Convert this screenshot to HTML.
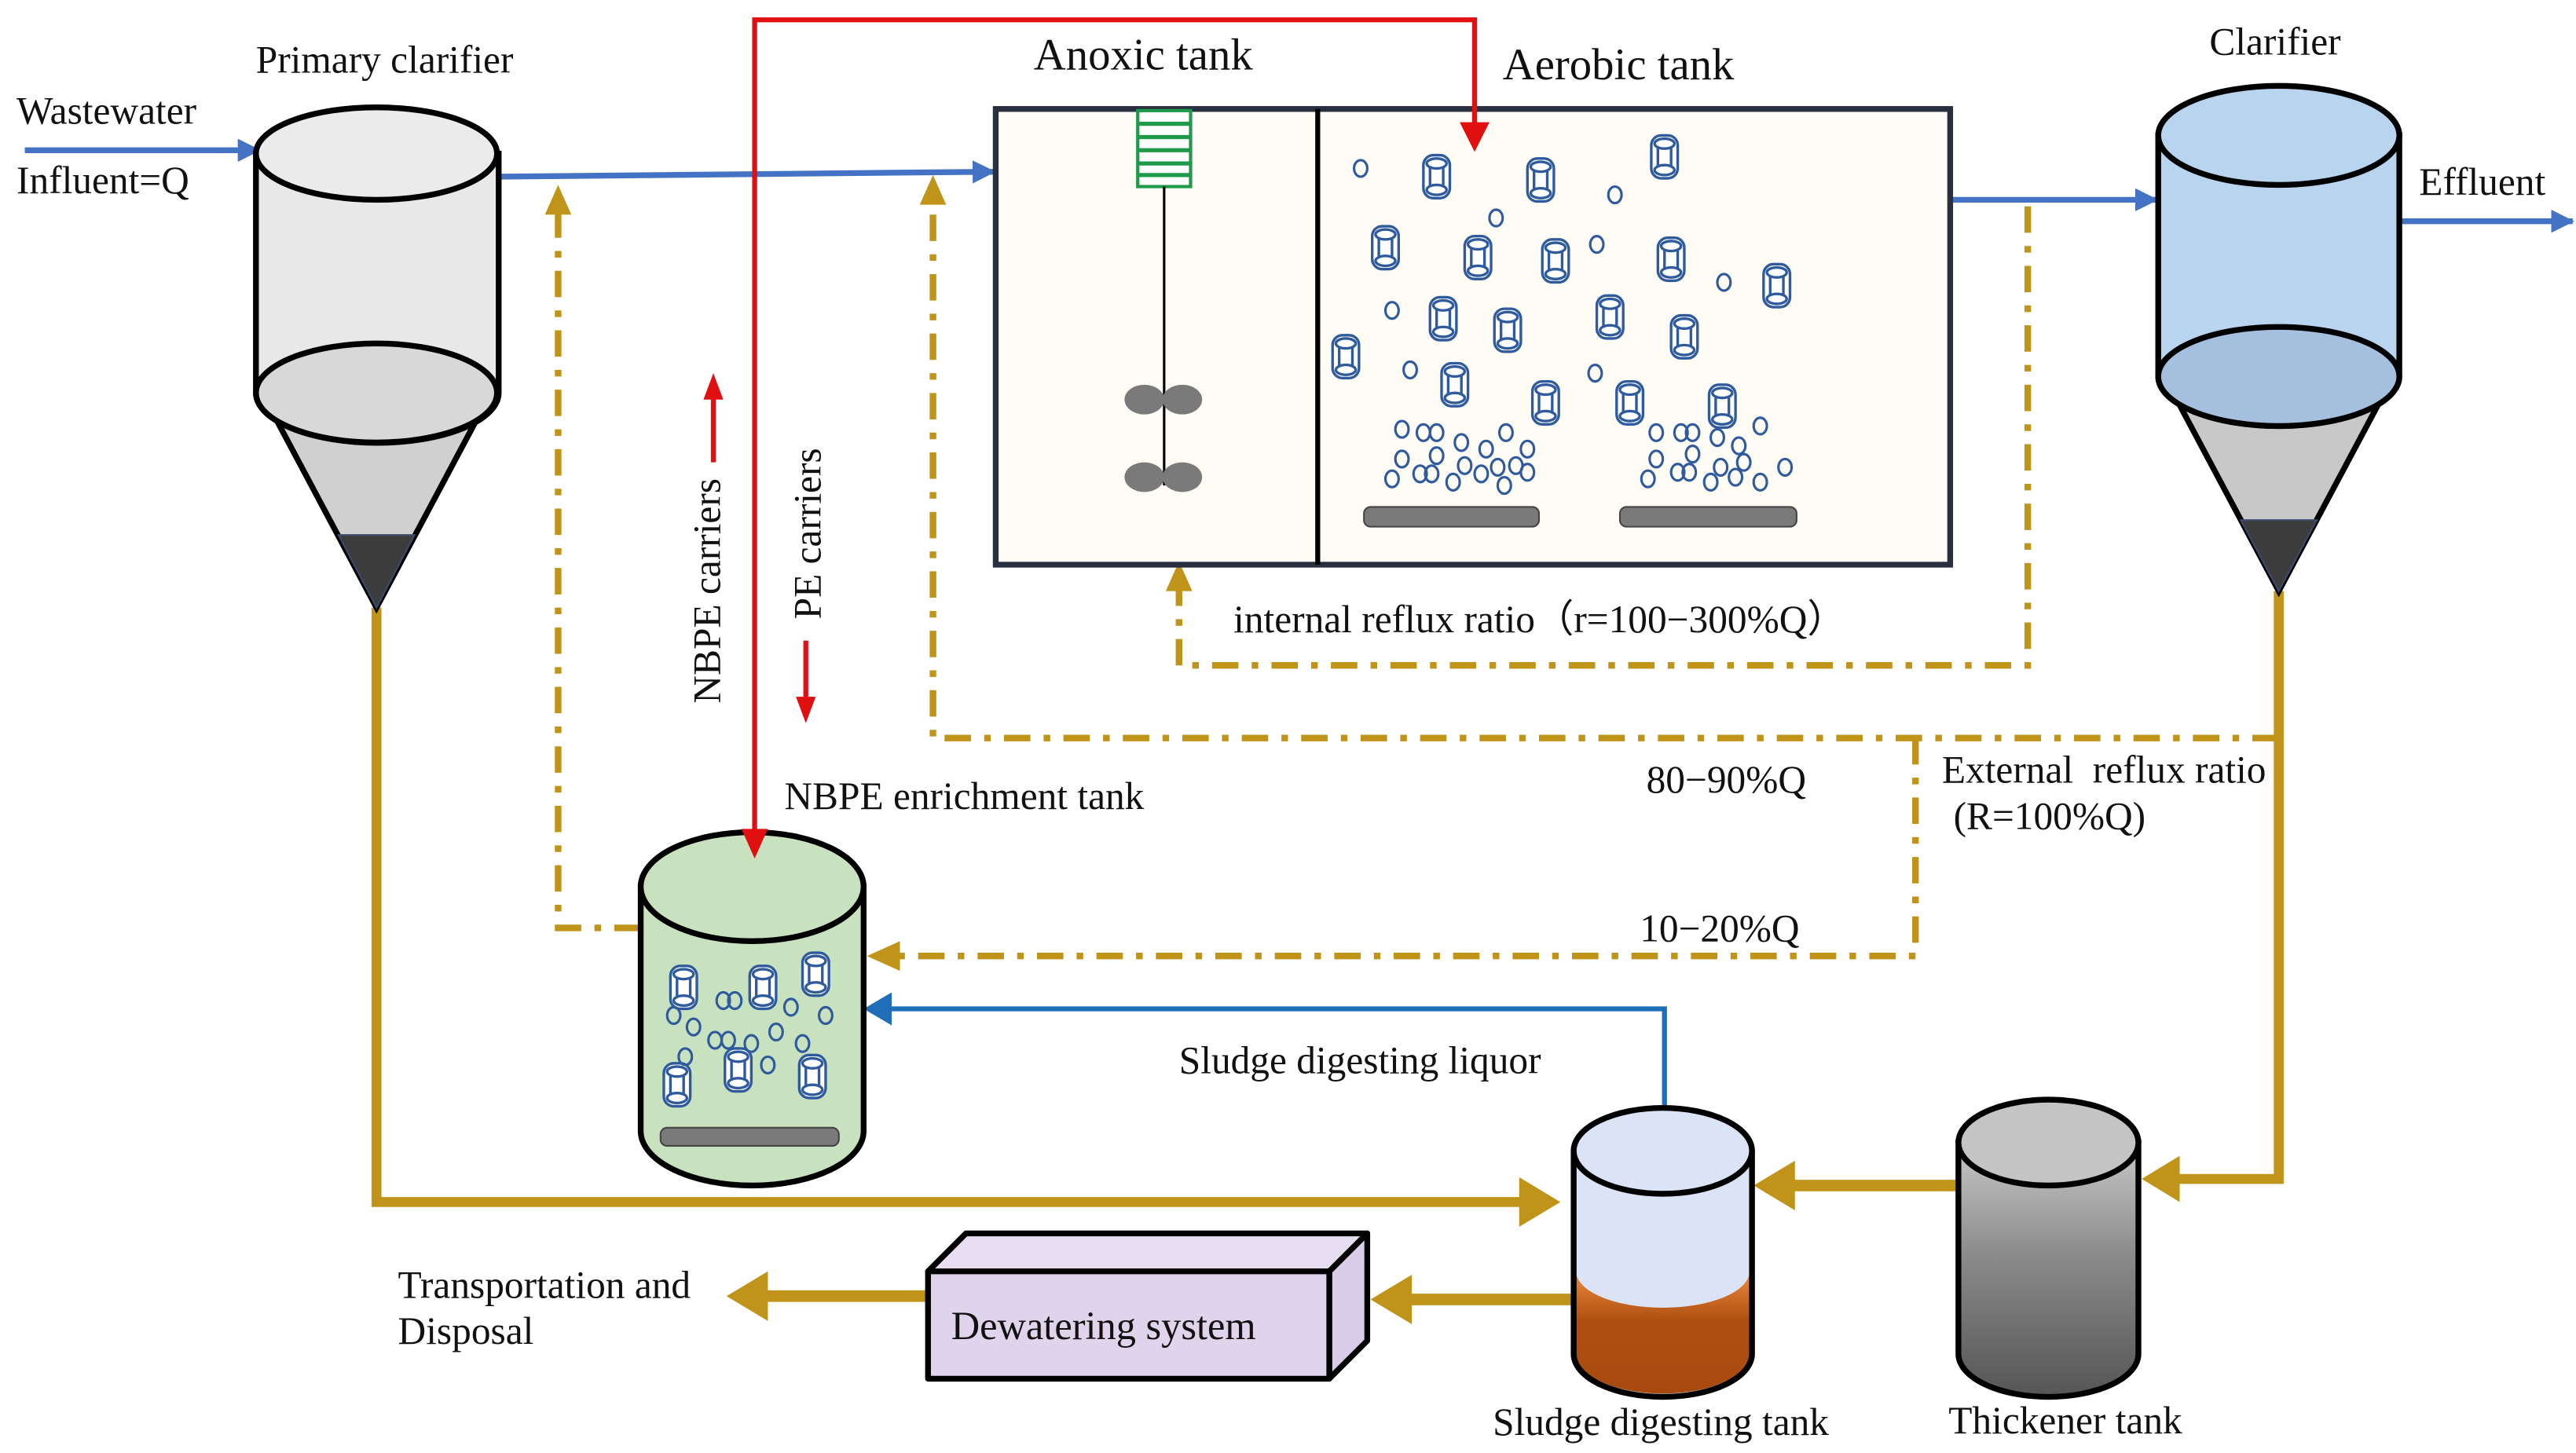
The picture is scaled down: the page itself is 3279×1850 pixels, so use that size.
<!DOCTYPE html>
<html><head><meta charset="utf-8"><style>
html,body{margin:0;padding:0;background:#fff;}
svg{display:block;}
text{font-family:"Liberation Serif",serif;fill:#111;}
</style></head><body>
<svg width="3279" height="1850" viewBox="0 0 1560 880" preserveAspectRatio="none" xmlns="http://www.w3.org/2000/svg">
<defs>
<g id="car" fill="none" stroke="#2f5b9e" stroke-width="1.6">
<rect x="-8" y="-13" width="16" height="26" rx="6" fill="#fff"/>
<ellipse cx="0" cy="-8" rx="6" ry="3"/>
<ellipse cx="0" cy="8" rx="6" ry="3"/>
<line x1="-4" y1="-6" x2="-4" y2="6"/><line x1="4" y1="-6" x2="4" y2="6"/>
</g>
<marker id="ab" markerWidth="14" markerHeight="14" refX="13" refY="7" orient="auto" markerUnits="userSpaceOnUse"><path d="M0,0 L14,7 L0,14z" fill="#4472c4"/></marker>
<linearGradient id="thk" x1="0" y1="0" x2="0" y2="1"><stop offset="0" stop-color="#c8c8c8"/><stop offset="0.45" stop-color="#8a8a8a"/><stop offset="1" stop-color="#555"/></linearGradient>
<linearGradient id="dig" x1="0" y1="0" x2="0" y2="1"><stop offset="0" stop-color="#ee8a40"/><stop offset="0.4" stop-color="#b05010"/><stop offset="1" stop-color="#a84a10"/></linearGradient>
</defs>

<!-- texts -->
<g font-size="23.5">
<text x="10" y="75">Wastewater</text>
<text x="10" y="117">Influent=Q</text>
<text x="155" y="44">Primary clarifier</text>
<text x="1338" y="33">Clarifier</text>
<text x="1465" y="118">Effluent</text>
<text x="1025" y="108">PE carriers</text>
<text x="747" y="383">internal reflux ratio（r=100−300%Q）</text>
<text x="997" y="480">80−90%Q</text>
<text x="1176" y="474" xml:space="preserve">External  reflux ratio</text>
<text x="1183" y="502">(R=100%Q)</text>
<text x="993" y="570">10−20%Q</text>
<text x="475" y="490">NBPE enrichment tank</text>
<text x="714" y="650">Sludge digesting liquor</text>
<text x="241" y="786">Transportation and</text>
<text x="241" y="814">Disposal</text>
<text x="904" y="869">Sludge digesting tank</text>
<text x="1180" y="868">Thickener tank</text>
<text transform="translate(436,426) rotate(-90)">NBPE carriers</text>
<text transform="translate(497,375) rotate(-90)">PE carriers</text>
</g>
<text x="626" y="42" font-size="27">Anoxic tank</text>
<text x="910" y="48" font-size="27">Aerobic tank</text>

<!-- blue lines -->
<g stroke="#4472c4" stroke-width="3.5" fill="none">
<line x1="15" y1="91" x2="157" y2="91" marker-end="url(#ab)"/>
<line x1="302" y1="107" x2="602" y2="104" marker-end="url(#ab)"/>
<line x1="1181" y1="121" x2="1306" y2="121" marker-end="url(#ab)"/>
<line x1="1447" y1="134" x2="1558" y2="134" marker-end="url(#ab)"/>
</g>
<polyline points="1008,670 1008,611 535,611" fill="none" stroke="#1f6fb8" stroke-width="3"/>
<path d="M523,611 L540,601 L540,621z" fill="#1f6fb8"/>

<!-- gold dash-dot -->
<g stroke="#c09418" stroke-width="4" fill="none" stroke-dasharray="16,8,4,8">
<polyline points="1228,125 1228,403 714,403 714,355"/>
<polyline points="1380,447 565,447 565,120"/>
<polyline points="1160,447 1160,579 540,579"/>
<polyline points="388,562 338,562 338,125"/>
</g>
<g fill="#c09418">
<path d="M714,340 L706,358 L722,358z"/>
<path d="M565,106 L557,124 L573,124z"/>
<path d="M338,112 L330,130 L346,130z"/>
<path d="M525,579 L545,570 L545,588z"/>
</g>
<!-- gold solid -->
<g stroke="#bf9418" fill="none">
<polyline points="1380,358 1380,714 1310,714" stroke-width="6"/>
<polyline points="228,368 228,728 925,728" stroke-width="6"/>
<line x1="1186" y1="718" x2="1080" y2="718" stroke-width="7"/>
<line x1="953" y1="787" x2="850" y2="787" stroke-width="7"/>
<line x1="562" y1="785" x2="460" y2="785" stroke-width="7"/>
</g>
<g fill="#bf9418">
<path d="M1297,714 L1320,700 L1320,728z"/>
<path d="M945,728 L920,713 L920,743z"/>
<path d="M1062,718 L1087,703 L1087,733z"/>
<path d="M830,787 L855,772 L855,802z"/>
<path d="M440,785 L465,770 L465,800z"/>
</g>

<!-- primary clarifier -->
<g stroke="#000" stroke-width="3.5">
<path d="M163,246 L293,246 L228,368z" fill="#d0d0d0"/>
<path d="M205,324 L251,324 L228,368z" fill="#3c3c3c" stroke="#3c4a70" stroke-width="1"/>
<path d="M155,93 L155,238 A73,30 0 0 0 302,238 L302,93z" fill="#e8e8e8"/>
<ellipse cx="228" cy="238" rx="73" ry="30" fill="#d8d8d8"/>
<ellipse cx="228" cy="93" rx="73" ry="28" fill="#ebebeb"/>
</g>

<!-- clarifier -->
<g stroke="#000" stroke-width="3.5">
<path d="M1315,236 L1445,236 L1380,358z" fill="#c8c8c8"/>
<path d="M1357,315 L1403,315 L1380,358z" fill="#3c3c3c" stroke="#3c4a70" stroke-width="1"/>
<path d="M1307,82 L1307,228 A73,30 0 0 0 1453,228 L1453,82z" fill="#b8d4ee"/>
<ellipse cx="1380" cy="228" rx="73" ry="30" fill="#a4c0de"/>
<ellipse cx="1380" cy="82" rx="73" ry="30" fill="#b8d4ee"/>
</g>

<!-- main tank -->
<rect x="603" y="66" width="578" height="276" fill="#fefcf4" stroke="#283040" stroke-width="3.5"/>
<line x1="798" y1="66" x2="798" y2="342" stroke="#000" stroke-width="3"/>
<rect x="689" y="67" width="32" height="46" fill="#fff" stroke="#1f9a4a" stroke-width="2"/>
<g stroke="#1f9a4a" stroke-width="2.5"><line x1="689" y1="75" x2="721" y2="75"/><line x1="689" y1="83" x2="721" y2="83"/><line x1="689" y1="91" x2="721" y2="91"/><line x1="689" y1="99" x2="721" y2="99"/><line x1="689" y1="106" x2="721" y2="106"/></g>
<line x1="705" y1="113" x2="705" y2="294" stroke="#000" stroke-width="1.5"/>
<g fill="#7a7a7a"><ellipse cx="693" cy="242" rx="12" ry="9"/><ellipse cx="716" cy="242" rx="12" ry="9"/><ellipse cx="693" cy="289" rx="12" ry="9"/><ellipse cx="716" cy="289" rx="12" ry="9"/></g>
<g fill="#7a7a7a" stroke="#444" stroke-width="1"><rect x="826" y="307" width="106" height="12" rx="4"/><rect x="981" y="307" width="107" height="12" rx="4"/></g>

<g>
<use href="#car" x="870" y="107"/><use href="#car" x="933" y="109"/><use href="#car" x="1008" y="95"/>
<use href="#car" x="839" y="150"/><use href="#car" x="895" y="156"/><use href="#car" x="942" y="158"/><use href="#car" x="1012" y="157"/><use href="#car" x="1076" y="173"/>
<use href="#car" x="874" y="193"/><use href="#car" x="913" y="200"/><use href="#car" x="975" y="192"/><use href="#car" x="1020" y="204"/>
<use href="#car" x="815" y="216"/><use href="#car" x="881" y="233"/><use href="#car" x="936" y="244"/><use href="#car" x="987" y="244"/><use href="#car" x="1043" y="246"/>
</g>
<g fill="none" stroke="#2f5b9e" stroke-width="1.5">
<ellipse cx="824" cy="102" rx="4" ry="5"/><ellipse cx="906" cy="132" rx="4" ry="5"/><ellipse cx="978" cy="118" rx="4" ry="5"/><ellipse cx="967" cy="148" rx="4" ry="5"/><ellipse cx="1044" cy="171" rx="4" ry="5"/><ellipse cx="843" cy="188" rx="4" ry="5"/><ellipse cx="854" cy="224" rx="4" ry="5"/><ellipse cx="966" cy="226" rx="4" ry="5"/>
<ellipse cx="849" cy="260" rx="4" ry="5"/><ellipse cx="862" cy="262" rx="4" ry="5"/><ellipse cx="870" cy="262" rx="4" ry="5"/><ellipse cx="885" cy="268" rx="4" ry="5"/><ellipse cx="900" cy="272" rx="4" ry="5"/><ellipse cx="912" cy="262" rx="4" ry="5"/><ellipse cx="925" cy="272" rx="4" ry="5"/>
<ellipse cx="849" cy="278" rx="4" ry="5"/><ellipse cx="870" cy="276" rx="4" ry="5"/><ellipse cx="887" cy="282" rx="4" ry="5"/><ellipse cx="907" cy="283" rx="4" ry="5"/><ellipse cx="918" cy="282" rx="4" ry="5"/>
<ellipse cx="843" cy="290" rx="4" ry="5"/><ellipse cx="860" cy="287" rx="4" ry="5"/><ellipse cx="867" cy="287" rx="4" ry="5"/><ellipse cx="880" cy="292" rx="4" ry="5"/><ellipse cx="897" cy="287" rx="4" ry="5"/><ellipse cx="911" cy="294" rx="4" ry="5"/><ellipse cx="925" cy="286" rx="4" ry="5"/>
<ellipse cx="1003" cy="262" rx="4" ry="5"/><ellipse cx="1018" cy="262" rx="4" ry="5"/><ellipse cx="1025" cy="262" rx="4" ry="5"/><ellipse cx="1040" cy="265" rx="4" ry="5"/><ellipse cx="1053" cy="270" rx="4" ry="5"/><ellipse cx="1066" cy="258" rx="4" ry="5"/>
<ellipse cx="1003" cy="278" rx="4" ry="5"/><ellipse cx="1025" cy="275" rx="4" ry="5"/><ellipse cx="1042" cy="283" rx="4" ry="5"/><ellipse cx="1056" cy="280" rx="4" ry="5"/>
<ellipse cx="998" cy="290" rx="4" ry="5"/><ellipse cx="1016" cy="286" rx="4" ry="5"/><ellipse cx="1023" cy="286" rx="4" ry="5"/><ellipse cx="1036" cy="292" rx="4" ry="5"/><ellipse cx="1051" cy="289" rx="4" ry="5"/><ellipse cx="1066" cy="292" rx="4" ry="5"/><ellipse cx="1081" cy="283" rx="4" ry="5"/>
</g>

<!-- red lines -->
<polyline points="457,505 457,12 893,12 893,78" fill="none" stroke="#e01010" stroke-width="3"/>
<path d="M893,92 L884,74 L902,74z" fill="#e01010"/>
<line x1="432" y1="280" x2="432" y2="240" stroke="#e01010" stroke-width="3"/>
<path d="M432,226 L426,242 L438,242z" fill="#e01010"/>
<line x1="488" y1="388" x2="488" y2="425" stroke="#e01010" stroke-width="3"/>
<path d="M488,438 L482,422 L494,422z" fill="#e01010"/>

<!-- NBPE tank -->
<g stroke="#000" stroke-width="3.5">
<path d="M388,537 L388,685 A67.5,33 0 0 0 523,685 L523,537z" fill="#c8e2c0"/>
<ellipse cx="455.5" cy="537" rx="67.5" ry="33" fill="#c8e2c0"/>
</g>
<path d="M457,520 L449,502 L465,502z" fill="#e01010"/>
<rect x="400" y="683" width="108" height="11" rx="4" fill="#7a7a7a" stroke="#444"/>
<g>
<use href="#car" x="414" y="598"/><use href="#car" x="462" y="598"/><use href="#car" x="494" y="590"/>
<use href="#car" x="410" y="657"/><use href="#car" x="447" y="648"/><use href="#car" x="492" y="652"/>
</g>
<g fill="none" stroke="#2f5b9e" stroke-width="1.5">
<ellipse cx="408" cy="615" rx="4" ry="5"/><ellipse cx="420" cy="622" rx="4" ry="5"/><ellipse cx="438" cy="606" rx="4" ry="5"/><ellipse cx="445" cy="606" rx="4" ry="5"/><ellipse cx="433" cy="630" rx="4" ry="5"/><ellipse cx="441" cy="630" rx="4" ry="5"/><ellipse cx="455" cy="632" rx="4" ry="5"/><ellipse cx="470" cy="625" rx="4" ry="5"/><ellipse cx="479" cy="610" rx="4" ry="5"/><ellipse cx="486" cy="632" rx="4" ry="5"/><ellipse cx="500" cy="615" rx="4" ry="5"/><ellipse cx="465" cy="645" rx="4" ry="5"/><ellipse cx="415" cy="640" rx="4" ry="5"/>
</g>

<!-- thickener tank -->
<g stroke="#000" stroke-width="3.5">
<path d="M1186,692 L1186,820 A54.5,26 0 0 0 1295,820 L1295,692z" fill="url(#thk)"/>
<ellipse cx="1240.5" cy="692" rx="54.5" ry="26" fill="#c4c4c4"/>
</g>
<!-- sludge digesting tank -->
<path d="M953,697 L953,820 A54,26 0 0 0 1061,820 L1061,697z" fill="#dae4f4"/>
<path d="M954.5,770 A52.5,22 0 0 0 1059.5,770 L1059.5,820 A52.5,24 0 0 1 954.5,820z" fill="url(#dig)"/>
<path d="M953,697 L953,820 A54,26 0 0 0 1061,820 L1061,697" fill="none" stroke="#000" stroke-width="3.5"/>
<ellipse cx="1007" cy="697" rx="54" ry="26" fill="#dae4f4" stroke="#000" stroke-width="3.5"/>

<!-- dewatering -->
<g stroke="#000" stroke-width="3.5" fill="#e0d4ec" stroke-linejoin="round">
<path d="M562,770 L585,747 L828,747 L805,770z" fill="#e8def2"/>
<path d="M805,770 L828,747 L828,812 L805,835z" fill="#d8cce8"/>
<rect x="562" y="770" width="243" height="65"/>
</g>
<text x="576" y="811" font-size="24">Dewatering system</text>
</svg>
</body></html>
